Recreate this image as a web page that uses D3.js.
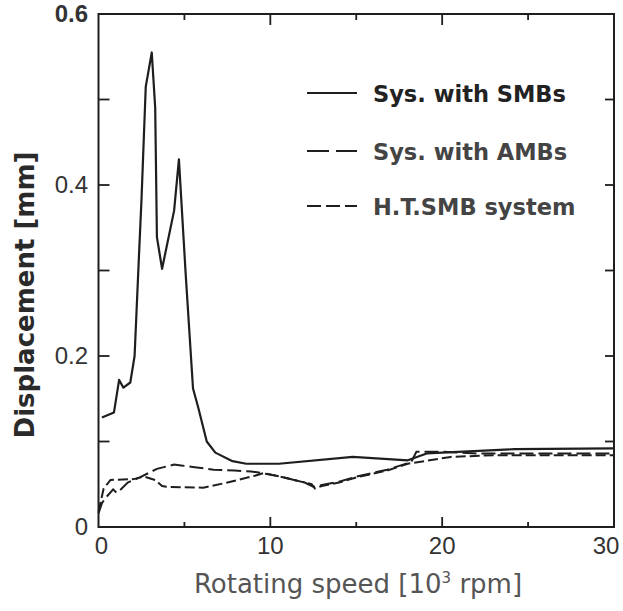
<!DOCTYPE html>
<html>
<head>
<meta charset="utf-8">
<script src="https://cdn.jsdelivr.net/npm/d3@7"></script>
<style>
  body { margin: 0; background: #fff; }
  svg { display: block; }
</style>
</head>
<body>
<svg width="623" height="611"></svg>
<script>
var svg = d3.select("svg"),
    width = +svg.attr("width"),
    height = +svg.attr("height");

// rotating speed [10^3 rpm] , displacement [mm]
var smbX = [0.2, 0.9, 1.2, 1.45, 1.85, 2.1, 2.35, 2.5, 2.75, 3.1, 3.3, 3.4, 3.7, 4.4, 4.68, 5.07, 5.5, 5.8, 6.3, 6.8, 7.8, 8.6, 10.5, 14.8, 18, 19.1, 24.2, 30];
var smbY = [0.128, 0.134, 0.172, 0.163, 0.169, 0.2, 0.315, 0.382, 0.515, 0.555, 0.49, 0.339, 0.302, 0.37, 0.43, 0.297, 0.162, 0.14, 0.1, 0.087, 0.077, 0.074, 0.074, 0.082, 0.078, 0.086, 0.091, 0.092];

var ambX = [0, 0.2, 0.5, 0.85, 1.05, 1.2, 1.7, 2.4, 3.4, 4.4, 4.8, 5.6, 6.7, 7.9, 8.9, 9.8, 10.8, 12, 12.5, 13, 14, 15, 16.8, 18.2, 18.5, 20, 22, 30];
var ambY = [0.016, 0.028, 0.036, 0.044, 0.04, 0.042, 0.052, 0.058, 0.068, 0.073, 0.072, 0.07, 0.067, 0.066, 0.065, 0.062, 0.058, 0.052, 0.047, 0.049, 0.053, 0.059, 0.067, 0.076, 0.088, 0.088, 0.086, 0.086];

var htsX = [0, 0.3, 0.7, 2.05, 2.65, 3.3, 3.7, 3.95, 6.1, 7.5, 9.1, 9.6, 10.8, 12, 12.4, 12.6, 13, 14, 15, 16.8, 18, 20.5, 23, 30];
var htsY = [0.018, 0.045, 0.055, 0.056, 0.059, 0.055, 0.048, 0.047, 0.046, 0.052, 0.06, 0.063, 0.058, 0.052, 0.05, 0.045, 0.048, 0.052, 0.058, 0.066, 0.074, 0.082, 0.084, 0.084];

var xTicks = [0, 10, 20, 30];
var xMinor = [5, 15, 25];
var yTicks = [0, 0.2, 0.4, 0.6];
var yInner = [0.1, 0.2, 0.3, 0.4, 0.5];
var yLabels = ["0", "0.2", "0.4", "0.6"];

var legendNames = ["Sys. with SMBs", "Sys. with AMBs", "H.T.SMB system"];

var x = d3.scaleLinear().domain([0, 30]).range([98.5, 614]);
var y = d3.scaleLinear().domain([0, 0.6]).range([527, 14]);

var ink = "#1e1e1e";
var numFont = "'Liberation Sans', Arial, sans-serif";

// frame
svg.append("rect")
  .attr("x", x(0)).attr("y", y(0.6))
  .attr("width", x(30) - x(0)).attr("height", y(0) - y(0.6))
  .attr("fill", "none").attr("stroke", ink).attr("stroke-width", 2);

// inward ticks
var tk = svg.append("g").attr("stroke", ink).attr("stroke-width", 1.8);
tk.selectAll(".l").data(yInner).enter().append("line")
  .attr("x1", x(0)).attr("x2", x(0) + 11)
  .attr("y1", function(d) { return y(d); }).attr("y2", function(d) { return y(d); });
tk.selectAll(".r").data(yInner).enter().append("line")
  .attr("x1", x(30)).attr("x2", x(30) - 9)
  .attr("y1", function(d) { return y(d); }).attr("y2", function(d) { return y(d); });
tk.selectAll(".b").data([10, 20]).enter().append("line")
  .attr("x1", function(d) { return x(d); }).attr("x2", function(d) { return x(d); })
  .attr("y1", y(0)).attr("y2", y(0) - 10);
tk.selectAll(".bm").data(xMinor).enter().append("line")
  .attr("x1", function(d) { return x(d); }).attr("x2", function(d) { return x(d); })
  .attr("y1", y(0)).attr("y2", y(0) - 5);
tk.selectAll(".t").data([10, 20]).enter().append("line")
  .attr("x1", function(d) { return x(d); }).attr("x2", function(d) { return x(d); })
  .attr("y1", y(0.6)).attr("y2", y(0.6) + 11);
tk.selectAll(".tm").data(xMinor).enter().append("line")
  .attr("x1", function(d) { return x(d); }).attr("x2", function(d) { return x(d); })
  .attr("y1", y(0.6)).attr("y2", y(0.6) + 6);

// tick labels (the outer ones sit a little inside the page)
svg.append("g").selectAll("text").data(xTicks).enter().append("text")
  .attr("x", function(d) { return x(d); })
  .attr("dx", function(d) { return d == 0 ? 3 : (d == 30 ? -8 : 0); })
  .attr("y", 554)
  .attr("text-anchor", "middle")
  .style("font-family", numFont).style("font-size", "24px")
  .style("fill", "#333")
  .text(function(d) { return d; });

svg.append("g").selectAll("text").data(yTicks).enter().append("text")
  .attr("x", 88)
  .attr("y", function(d) { return y(d) + 8; })
  .attr("text-anchor", "end")
  .style("font-family", numFont).style("font-size", "24px")
  .style("font-weight", function(d) { return d == 0.6 ? "bold" : "normal"; })
  .style("fill", "#333")
  .text(function(d, i) { return yLabels[i]; });

// axis titles
svg.append("text")
  .attr("transform", "translate(34," + 295 + ") rotate(-90)")
  .attr("text-anchor", "middle")
  .style("font-family", "'DejaVu Sans', sans-serif").style("font-size", "26px")
  .style("font-weight", "bold").style("fill", "#2a2a2a")
  .text("Displacement [mm]");

var xt = svg.append("text")
  .attr("x", 358).attr("y", 593)
  .attr("text-anchor", "middle")
  .style("font-family", "'DejaVu Sans', sans-serif").style("font-size", "26px")
  .style("fill", "#555");
xt.append("tspan").text("Rotating speed [10");
xt.append("tspan").attr("dy", -10).style("font-size", "15px").text("3");
xt.append("tspan").attr("dy", 10).text(" rpm]");

// curves
var line = d3.line()
  .x(function(d) { return x(d[0]); })
  .y(function(d) { return y(d[1]); });

svg.append("path")
  .datum(d3.zip(smbX, smbY))
  .attr("d", line)
  .attr("fill", "none").attr("stroke", ink).attr("stroke-width", 2.2)
  .attr("stroke-linejoin", "round");

svg.append("path")
  .datum(d3.zip(ambX, ambY))
  .attr("d", line)
  .attr("fill", "none").attr("stroke", ink).attr("stroke-width", 2)
  .attr("stroke-dasharray", "14,5");

svg.append("path")
  .datum(d3.zip(htsX, htsY))
  .attr("d", line)
  .attr("fill", "none").attr("stroke", ink).attr("stroke-width", 2)
  .attr("stroke-dasharray", "10,4");

// legend
var legY = [93, 151, 206];
var legDash = [null, "22,7", "14,5"];
var legend = svg.append("g");
legend.selectAll("line").data(legendNames).enter().append("line")
  .attr("x1", 307).attr("x2", 357)
  .attr("y1", function(d, i) { return legY[i]; })
  .attr("y2", function(d, i) { return legY[i]; })
  .attr("stroke", ink).attr("stroke-width", 1.8)
  .attr("stroke-dasharray", function(d, i) { return legDash[i]; });
legend.selectAll("text").data(legendNames).enter().append("text")
  .attr("x", 373)
  .attr("y", function(d, i) { return legY[i] + 9; })
  .style("font-family", "'DejaVu Sans', sans-serif").style("font-size", "22.5px")
  .style("font-weight", "bold")
  .style("fill", function(d, i) { return i == 0 ? "#222" : "#444"; })
  .text(function(d) { return d; });
</script>
</body>
</html>
